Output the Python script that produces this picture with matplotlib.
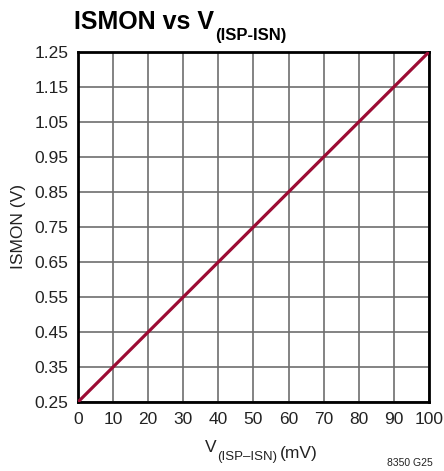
import matplotlib.pyplot as plt

plt.rcParams['font.family'] = ['Liberation Sans', 'DejaVu Sans']

# data
v_sense = [0, 100]          # mV
ismon = [0.25, 1.25]        # V
x_ticks = list(range(0, 101, 10))
y_ticks = [0.25, 0.35, 0.45, 0.55, 0.65, 0.75, 0.85, 0.95, 1.05, 1.15, 1.25]

fig = plt.figure(figsize=(4.44, 4.71), dpi=100)
ax = fig.add_axes([0.1757, 0.1465, 0.7903, 0.7431])

ax.plot(v_sense, ismon, color='#9c0c34', linewidth=2.3, solid_capstyle='butt', zorder=3)

ax.set_xlim(0, 100)
ax.set_ylim(0.25, 1.25)
ax.set_xticks(x_ticks)
ax.set_yticks(y_ticks)
ax.set_yticklabels(['%.2f' % v for v in y_ticks])
ax.grid(True, color='#6e6e6e', linewidth=1.2)
ax.tick_params(length=0, labelsize=12.5, colors='#222222')
ax.tick_params(axis='x', pad=7)
ax.tick_params(axis='y', pad=7)
for s in ax.spines.values():
    s.set_linewidth(2.0)
    s.set_color('black')

ax.set_ylabel('ISMON (V)', fontsize=12.5, labelpad=6, color='#222222')

# x label with subscript
xl = fig.text(0.462, 0.041, 'V', fontsize=12.5, ha='left', va='baseline', color='#222222')
xs = ax.annotate('(ISP\u2013ISN)', xy=(1, 0), xycoords=xl, xytext=(0.5, -3.8),
                 textcoords='offset points', fontsize=9.5, ha='left', va='baseline', color='#222222')
ax.annotate('(mV)', xy=(1, 0), xycoords=xs, xytext=(2, 3.8),
            textcoords='offset points', fontsize=12.5, ha='left', va='baseline', color='#222222')

# title with subscript
tt = fig.text(0.167, 0.938, 'ISMON vs V', fontsize=18, fontweight='bold', ha='left', va='baseline')
ax.annotate('(ISP-ISN)', xy=(1, 0), xycoords=tt, xytext=(0.5, -4.5),
            textcoords='offset points', fontsize=12, fontweight='bold', ha='left', va='baseline')

fig.text(0.975, 0.017, '8350 G25', fontsize=7.5, ha='right', va='center', color='#222222')

fig.savefig('out.png', dpi=100)
